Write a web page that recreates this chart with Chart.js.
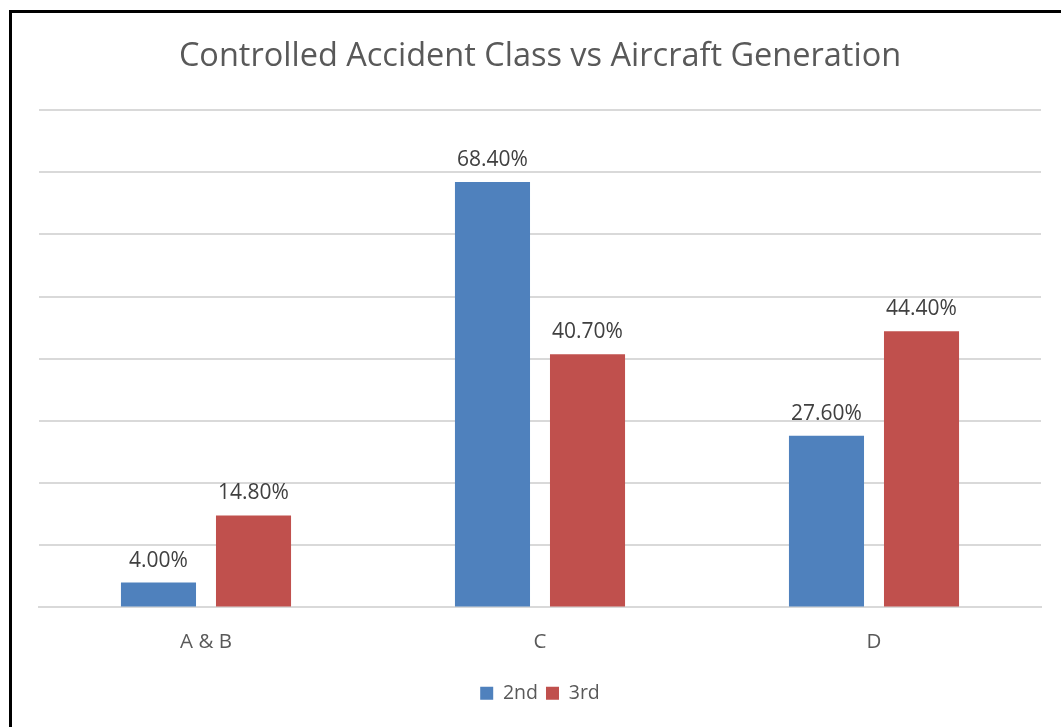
<!DOCTYPE html>
<html>
<head>
<meta charset="utf-8">
<script src="https://cdn.jsdelivr.net/npm/chart.js@4.4.1/dist/chart.umd.min.js"></script>
<style>
html,body{margin:0;padding:0;background:#fff;overflow:hidden;}
#wrap{position:absolute;left:0;top:0;width:1061px;height:727px;}
#frame{position:absolute;left:9px;top:10px;width:1100px;height:800px;border-left:3px solid #000;border-top:3px solid #000;pointer-events:none;}
</style>
</head>
<body>
<div id="wrap"><canvas id="c" width="1061" height="727"></canvas></div>
<div id="frame"></div>
<script>
const categories = ["A & B", "C", "D"];
const series2nd = [4.0, 68.4, 27.6];
const series3rd = [14.8, 40.7, 44.4];
const seriesNames = ["2nd", "3rd"];
const chartTitle = "Controlled Accident Class vs Aircraft Generation";

const FONT = "'Open Sans', 'Liberation Sans', sans-serif";

const labelPlugin = {
  id: 'valueLabels',
  afterDatasetsDraw(chart) {
    const ctx = chart.ctx;
    ctx.save();
    ctx.font = "21px " + FONT;
    ctx.fillStyle = "#404040";
    ctx.textAlign = "center";
    ctx.textBaseline = "alphabetic";
    chart.data.datasets.forEach((ds, i) => {
      const meta = chart.getDatasetMeta(i);
      meta.data.forEach((bar, j) => {
        ctx.fillText(ds.data[j].toFixed(2) + "%", bar.x, bar.y - 16);
      });
    });
    ctx.restore();
  }
};

new Chart(document.getElementById('c'), {
  type: 'bar',
  data: {
    labels: categories,
    datasets: [
      { label: seriesNames[0], data: series2nd, backgroundColor: '#4F81BD' },
      { label: seriesNames[1], data: series3rd, backgroundColor: '#C0504D' }
    ]
  },
  options: {
    responsive: false,
    animation: false,
    devicePixelRatio: 1,
    categoryPercentage: 0.569,
    barPercentage: 0.79,
    layout: { padding: { left: 39, right: 20, top: 0, bottom: 14 } },
    plugins: {
      title: {
        display: true,
        text: chartTitle,
        color: '#595959',
        font: { family: FONT, size: 32.5, weight: 'normal' },
        padding: { top: 37, bottom: 34 }
      },
      legend: {
        position: 'bottom',
        labels: {
          color: '#595959',
          font: { family: FONT, size: 19.5 },
          boxWidth: 13,
          boxHeight: 13,
          padding: 8
        }
      },
      tooltip: { enabled: false }
    },
    scales: {
      x: {
        grid: { display: false },
        border: { display: true, color: '#D9D9D9', width: 2 },
        ticks: { color: '#595959', font: { family: FONT, size: 20.5 }, padding: 14 },
        afterFit(scale) { scale.height += 7.5; }
      },
      y: {
        min: 0, max: 80,
        ticks: { display: false, stepSize: 10 },
        grid: { color: '#D9D9D9', lineWidth: 2, drawTicks: false },
        border: { display: false }
      }
    }
  },
  plugins: [labelPlugin]
});
</script>
</body>
</html>
